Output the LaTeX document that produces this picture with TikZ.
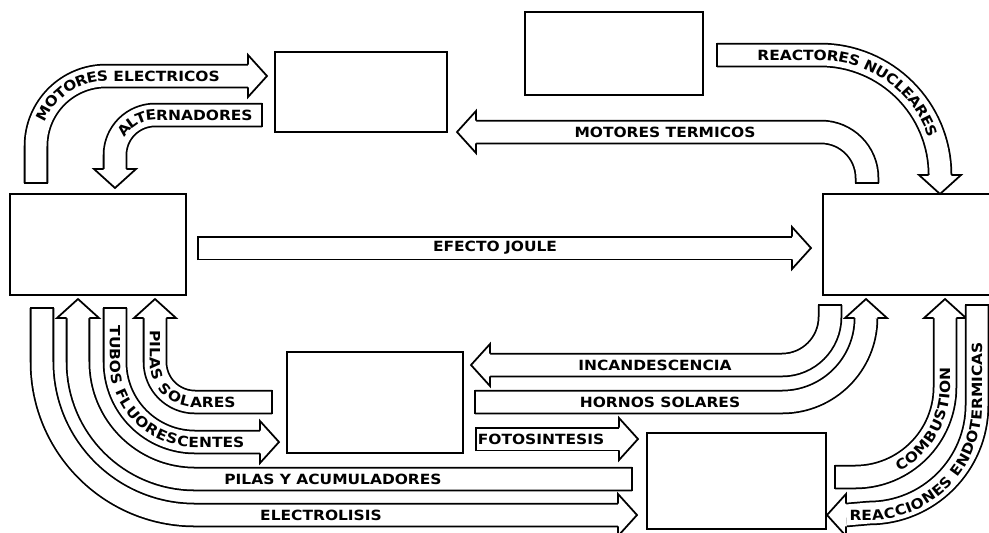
\documentclass[tikz,border=0pt]{standalone}
\usepackage{fontspec}
\newfontfamily\lblfont{DejaVu Sans}[FakeStretch=1.1]
\newcommand\lbl{\lblfont\bfseries\fontsize{8}{9}\selectfont}
\usetikzlibrary{decorations.text,fit}

\begin{document}
\begin{tikzpicture}[
  x=0.02cm, y=0.02cm,
  outl/.style={line width=1pt},
  box/.style={draw,line width=1pt,inner sep=0pt},
  band/.style={outl,double=white,double distance=0.42cm},
  lbl/.style={font=\lbl,inner sep=0pt},
  along/.style 2 args={decorate,decoration={text along path,raise=-2.9pt,
      text align={left indent=#1},text={|\lbl|#2}}},
  ahead/.pic={
    \fill[white] (0,-21) -- (19,0) -- (0,21) -- cycle;
    \draw[outl] (0,11.3) -- (0,21) -- (19,0) -- (0,-21) -- (0,-11.3);},
  atail/.pic={\draw[outl] (0,-12.2) -- (0,12.2);},
]
\useasboundingbox (0,0) rectangle (989,-532);

% ====================================================== the six energy forms
\node[box,fit={(275,-52) (447,-132)}] (mech) {};
\node[box,fit={(525,-12) (703,-95)}]  (nucl) {};
\node[box,fit={(10,-194) (186,-295)}] (elec) {};
\node[box,fit={(823,-194) (998,-295)}] (heat) {};
\node[box,fit={(287,-352) (463,-453)}] (rad) {};
\node[box,fit={(647,-433) (826,-529)}] (chem) {};

% ====================================================== top half
% electric -> mechanical
\coordinate (meA) at (36,-183);
\coordinate (meB) at (248,-76);
\draw[band] (meA) -- (36,-146) arc[start angle=180,end angle=90,radius=70] -- (meB);
\pic at (meB) {ahead};
\pic[rotate=90] at (meA) {atail};
\path[along={36pt}{MOTORES ELECTRICOS}]
  (meA) -- (36,-146) arc[start angle=180,end angle=90,radius=70] -- (meB);

% mechanical -> electric
\coordinate (alA) at (262,-115);
\coordinate (alB) at (115,-169);
\draw[band] (alA) -- (155,-115) arc[start angle=90,end angle=180,radius=40] -- (alB);
\pic[rotate=-90] at (alB) {ahead};
\pic at (alA) {atail};
\path[along={20pt}{ALTERNADORES}]
  (alB) -- (115,-155) arc[start angle=180,end angle=90,radius=40] -- (alA);

% heat -> mechanical
\coordinate (mtA) at (867,-183);
\coordinate (mtB) at (476,-132);
\draw[band] (mtA) -- (867,-178) arc[start angle=0,end angle=90,radius=46] -- (mtB);
\pic[rotate=180] at (mtB) {ahead};
\pic[rotate=90] at (mtA) {atail};
\node[lbl] (tTerm) at (665,-132) {MOTORES TERMICOS};

% nuclear -> heat
\coordinate (rnA) at (717,-55);
\coordinate (rnB) at (940,-175);
\draw[band] (rnA) -- (820,-55) arc[start angle=90,end angle=0,radius=120];
\pic[rotate=-90] at (rnB) {ahead};
\pic at (rnA) {atail};
\path[along={23pt}{REACTORES NUCLEARES}]
  (rnA) -- (820,-55) arc[start angle=90,end angle=0,radius=120];

% electric -> heat
\coordinate (ejA) at (198,-248);
\coordinate (ejB) at (792,-248);
\draw[band] (ejA) -- (ejB);
\pic at (ejB) {ahead};
\pic at (ejA) {atail};
\node[lbl] (tJoule) at (495,-248) {EFECTO JOULE};

% ====================================================== bottom right
\coordinate (inA) at (830,-305);
\coordinate (inB) at (490,-365);
\draw[band] (inA) -- (830,-317) arc[start angle=0,end angle=-90,radius=48] -- (inB);
\pic[rotate=180] at (inB) {ahead};
\pic[rotate=90] at (inA) {atail};
\node[lbl] (tIncan) at (655,-365) {INCANDESCENCIA};

\coordinate (hsA) at (475,-402);
\coordinate (hsB) at (866,-318);
\draw[band] (hsA) -- (782,-402) arc[start angle=-90,end angle=0,radius=84];
\pic[rotate=90] at (hsB) {ahead};
\pic at (hsA) {atail};
\node[lbl] (tHorno) at (660,-402) {HORNOS SOLARES};

\coordinate (fsA) at (476,-439);
\coordinate (fsB) at (619,-439);
\draw[band] (fsA) -- (fsB);
\pic at (fsB) {ahead};
\pic at (fsA) {atail};
\node[lbl] (tFoto) at (541,-439) {FOTOSINTESIS};

\coordinate (cbA) at (835,-477);
\coordinate (cbB) at (945,-318);
\draw[band] (cbA) -- (855,-477) arc[start angle=-90,end angle=0,radius=90] -- (cbB);
\pic[rotate=90] at (cbB) {ahead};
\pic at (cbA) {atail};
\path[along={36pt}{COMBUSTION}]
  (cbA) -- (855,-477) arc[start angle=-90,end angle=0,radius=90] -- (cbB);

\coordinate (reA) at (977,-305);
\coordinate (reB) at (846,-515);
\draw[band] (reA) -- (977,-405) arc[start angle=0,end angle=-90,radius=108] -- (reB);
\pic[rotate=180] at (reB) {ahead};
\pic[rotate=90] at (reA) {atail};
\path[along={2pt}{REACCIONES ENDOTERMICAS}]
  (reB) -- (869,-515) arc[start angle=-90,end angle=0,radius=108] -- (reA);

% ====================================================== bottom left
\coordinate (paA) at (632,-479);
\coordinate (paB) at (78,-318);
\draw[band] (paA) -- (195,-479) arc[start angle=-90,end angle=-180,radius=117] -- (paB);
\pic[rotate=90] at (paB) {ahead};
\pic at (paA) {atail};
\node[lbl] (tPilas) at (333,-479) {PILAS Y ACUMULADORES};

\coordinate (elA) at (42,-308);
\coordinate (elB) at (618,-515);
\draw[band] (elA) -- (42,-362) arc[start angle=180,end angle=270,radius=153] -- (elB);
\pic at (elB) {ahead};
\pic[rotate=90] at (elA) {atail};
\node[lbl] (tElec) at (321,-515) {ELECTROLISIS};

\coordinate (tfA) at (115,-308);
\coordinate (tfB) at (260,-442);
\draw[band] (tfA) -- (115,-362) arc[start angle=180,end angle=270,radius=80] -- (tfB);
\pic at (tfB) {ahead};
\pic[rotate=90] at (tfA) {atail};
\path[along={10pt}{TUBOS FLUORESCENTES}]
  (tfA) -- (115,-362) arc[start angle=180,end angle=270,radius=80] -- (tfB);

\coordinate (psA) at (272,-402);
\coordinate (psB) at (155,-318);
\draw[band] (psA) -- (195,-402) arc[start angle=-90,end angle=-180,radius=40] -- (psB);
\pic[rotate=90] at (psB) {ahead};
\pic at (psA) {atail};
\path[along={7pt}{PILAS SOLARES}]
  (psB) -- (155,-362) arc[start angle=180,end angle=270,radius=40] -- (psA);

\end{tikzpicture}
\end{document}
